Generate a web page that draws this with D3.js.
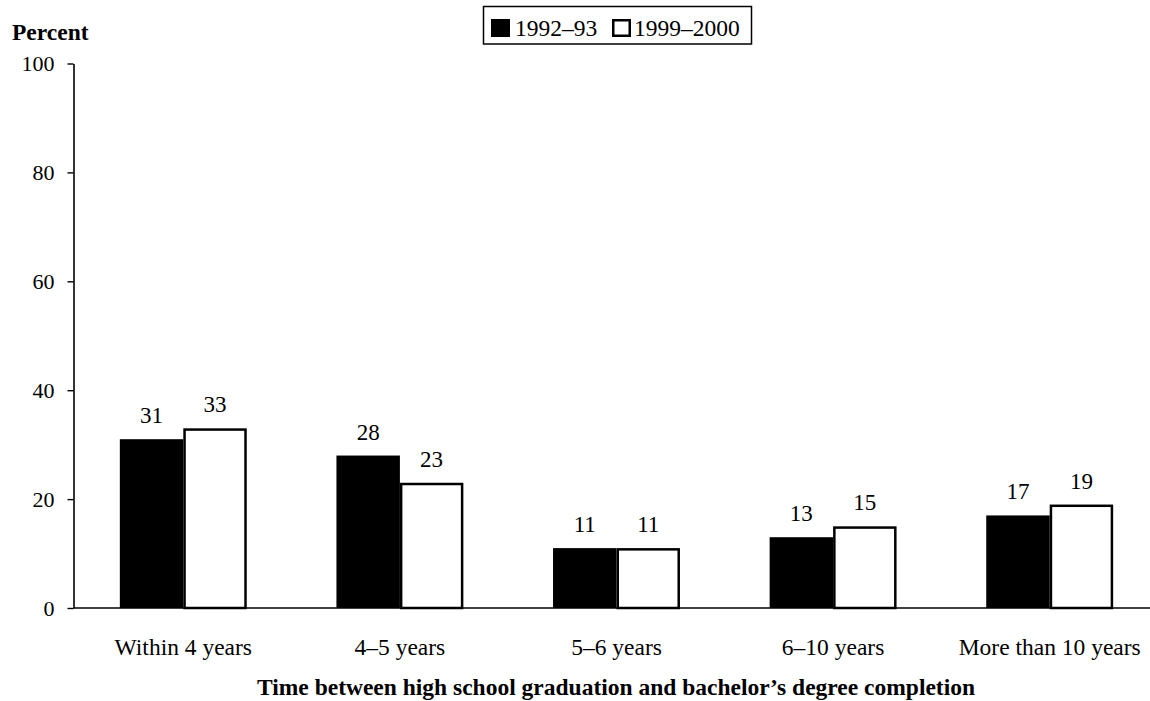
<!DOCTYPE html>
<html>
<head>
<meta charset="utf-8">
<script src="https://cdn.jsdelivr.net/npm/d3@7"></script>
<style>
  html, body { margin: 0; padding: 0; background: #fff; }
  svg { display: block; }
  text { font-family: "Liberation Serif", "Times New Roman", serif; fill: #000; }
</style>
</head>
<body>
<svg id="chart" width="1150" height="701"></svg>
<script>
// Share of bachelor's degree recipients, by time from high school graduation to degree
const categories = ["Within 4 years", "4\u20135 years", "5\u20136 years", "6\u201310 years", "More than 10 years"];
const seriesNames = ["1992\u201393", "1999\u20132000"];
const values1992 = [31, 28, 11, 13, 17];
const values1999 = [33, 23, 11, 15, 19];
const yTicks = [0, 20, 40, 60, 80, 100];
const yLabel = "Percent";
const xLabel = "Time between high school graduation and bachelor\u2019s degree completion";

const rows = categories.map((c, i) => ({ category: c, values: [values1992[i], values1999[i]] }));

const svg = d3.select("#chart");

const y = d3.scaleLinear().domain([0, 100]).range([608, 63.5]);
const x0 = d3.scaleBand().domain(categories).range([75, 1158]).paddingInner(0.414).paddingOuter(0.207);
const x1 = d3.scaleBand().domain(seriesNames).range([0, x0.bandwidth()]);

const fills = ["#000", "#fff"];

// Y axis: vertical line with ticks on the left
const yAxis = d3.axisLeft(y).tickValues(yTicks).tickSize(6).tickSizeOuter(0).tickPadding(13);
const gy = svg.append("g").attr("transform", "translate(73.5,0)").call(yAxis);
gy.select(".domain").attr("stroke", "#000").attr("stroke-width", 1.6);
gy.selectAll(".tick line").attr("stroke", "#000").attr("stroke-width", 1.4);
gy.selectAll(".tick text")
  .style("font-family", "Liberation Serif, Times New Roman, serif")
  .style("font-size", "22px")
  .attr("fill", "#000");

// Baseline across the plot
svg.append("line")
  .attr("x1", 73.5).attr("x2", 1150)
  .attr("y1", y(0)).attr("y2", y(0))
  .attr("stroke", "#000").attr("stroke-width", 1.4);

// Bars
const groups = svg.append("g").selectAll("g")
  .data(rows).join("g")
  .attr("transform", d => `translate(${x0(d.category)},0)`);

groups.selectAll("rect")
  .data(d => d.values.map((v, i) => ({ series: seriesNames[i], value: v, idx: i })))
  .join("rect")
  .attr("x", d => x1(d.series) + (d.idx === 1 ? 1.25 : 0))
  .attr("width", d => x1.bandwidth() - (d.idx === 1 ? 2.5 : 0))
  .attr("y", d => y(d.value) + (d.idx === 1 ? 1.25 : 0))
  .attr("height", d => y(0) - y(d.value) - (d.idx === 1 ? 1.25 : 0))
  .attr("fill", d => fills[d.idx])
  .attr("stroke", "#000")
  .attr("stroke-width", d => d.idx === 1 ? 2.5 : 0);

// Value labels above bars
groups.selectAll("text.val")
  .data(d => d.values.map((v, i) => ({ series: seriesNames[i], value: v })))
  .join("text")
  .attr("class", "val")
  .attr("x", d => x1(d.series) + x1.bandwidth() / 2)
  .attr("y", d => y(d.value) - 16)
  .attr("text-anchor", "middle")
  .style("font-size", "23px")
  .text(d => d.value);

// Category labels
svg.append("g").selectAll("text")
  .data(categories).join("text")
  .attr("x", d => x0(d) + x0.bandwidth() / 2)
  .attr("y", 655)
  .attr("text-anchor", "middle")
  .style("font-size", "23.5px")
  .text(d => d);

// Axis titles
svg.append("text")
  .attr("x", 12).attr("y", 40)
  .style("font-size", "23.5px").style("font-weight", "bold")
  .text(yLabel);

svg.append("text")
  .attr("x", 616).attr("y", 695)
  .attr("text-anchor", "middle")
  .style("font-size", "23.5px").style("font-weight", "bold")
  .text(xLabel);

// Legend
const legend = svg.append("g");
legend.append("rect")
  .attr("x", 483.5).attr("y", 6.5).attr("width", 268).attr("height", 37.5)
  .attr("fill", "#fff").attr("stroke", "#000").attr("stroke-width", 1.5);

const legendItems = [
  { name: seriesNames[0], sx: 491, tx: 515, fill: fills[0] },
  { name: seriesNames[1], sx: 612, tx: 634, fill: fills[1] }
];
legendItems.forEach(it => {
  legend.append("rect")
    .attr("x", it.sx + (it.fill === "#fff" ? 1.25 : 0))
    .attr("y", 19 + (it.fill === "#fff" ? 1.25 : 0))
    .attr("width", 19 - (it.fill === "#fff" ? 2.5 : 0))
    .attr("height", 18 - (it.fill === "#fff" ? 2.5 : 0))
    .attr("fill", it.fill)
    .attr("stroke", "#000")
    .attr("stroke-width", it.fill === "#fff" ? 2.5 : 0);
  legend.append("text")
    .attr("x", it.tx).attr("y", 36)
    .style("font-size", "23.5px")
    .text(it.name);
});
</script>
</body>
</html>
